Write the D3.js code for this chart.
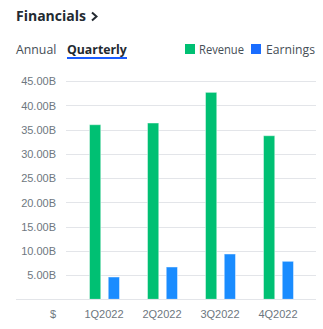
<!DOCTYPE html>
<html>
<head>
<meta charset="utf-8">
<script src="https://cdn.jsdelivr.net/npm/d3@7"></script>
<style>
  html, body { margin: 0; padding: 0; background: #fff; }
  svg { display: block; }
</style>
</head>
<body>
<svg id="chart" width="323" height="329"></svg>
<script>
// Quarterly financials (billions of dollars)
const quarters = ["1Q2022", "2Q2022", "3Q2022", "4Q2022"];
const revenue = [35.99, 36.34, 42.66, 33.72];
const earnings = [4.60, 6.66, 9.34, 7.83];
const seriesNames = ["Revenue", "Earnings"];
const yTicks = [5, 10, 15, 20, 25, 30, 35, 40, 45];

const colors = { Revenue: "#00c073", Earnings: "#1a8cff" };
const legendColors = { Revenue: "#00c073", Earnings: "#1a6dff" };

const svg = d3.select("#chart");
const txt = "#464e56";
const axisFont = "Liberation Sans, Arial, sans-serif";
const uiFont = "'Open Sans', 'Noto Sans', sans-serif";

// Header
svg.append("text").attr("x", 16).attr("y", 21)
  .attr("font-family", uiFont).attr("font-weight", 700).attr("font-size", 14)
  .attr("fill", "#232a31").text("Financials");
svg.append("path").attr("d", "M92,12.5 L96.5,16.5 L92,20.5")
  .attr("fill", "none").attr("stroke", "#232a31").attr("stroke-width", 2);

svg.append("text").attr("x", 16).attr("y", 54)
  .attr("font-family", uiFont).attr("font-size", 12.3)
  .attr("fill", txt).text("Annual");
svg.append("text").attr("x", 67).attr("y", 54)
  .attr("font-family", uiFont).attr("font-weight", 700).attr("font-size", 12.3)
  .attr("fill", "#232a31").text("Quarterly");
svg.append("rect").attr("x", 67).attr("y", 57).attr("width", 60).attr("height", 2)
  .attr("fill", "#1a5cff");

// Legend
const legendPos = [{ x: 185, tx: 199, w: 45 }, { x: 251, tx: 266, w: 49 }];
seriesNames.forEach((name, i) => {
  svg.append("rect").attr("x", legendPos[i].x).attr("y", 44)
    .attr("width", 10).attr("height", 10).attr("fill", legendColors[name]);
  svg.append("text").attr("x", legendPos[i].tx).attr("y", 54)
    .attr("font-family", uiFont).attr("font-size", 12.3)
    .attr("textLength", legendPos[i].w).attr("lengthAdjust", "spacingAndGlyphs")
    .attr("fill", txt).text(name);
});

// Scales
const y = d3.scaleLinear().domain([0, 45]).range([299.3, 81]);
const x0 = d3.scaleBand().domain(quarters).range([75, 307]);
const x1 = d3.scaleBand().domain(seriesNames).range([14.5, 44.5]).paddingInner(0.4);

// Gridlines and y labels
const yAxis = d3.axisLeft(y).tickValues(yTicks)
  .tickFormat(d => d3.format(".2f")(d) + "B").tickSize(0).tickPadding(0);
const yg = svg.append("g").attr("transform", "translate(56,0)").call(yAxis);
yg.select(".domain").remove();
yg.selectAll("text").attr("font-family", axisFont).attr("font-size", 11)
  .attr("fill", "#6e7780").attr("dy", "0.35em");

svg.append("g").selectAll("line").data(yTicks).join("line")
  .attr("x1", 66).attr("x2", 316)
  .attr("y1", d => Math.round(y(d)) + 0.5).attr("y2", d => Math.round(y(d)) + 0.5)
  .attr("stroke", "#e3e5e9").attr("stroke-width", 1);

// Bars
const rows = quarters.map((q, i) => ({ q, Revenue: revenue[i], Earnings: earnings[i] }));
const groups = svg.append("g").selectAll("g").data(rows).join("g")
  .attr("transform", d => `translate(${x0(d.q)},0)`);
groups.selectAll("rect").data(d => seriesNames.map(k => ({ k, v: d[k] }))).join("rect")
  .attr("x", d => x1(d.k))
  .attr("width", x1.bandwidth())
  .attr("y", d => y(d.v))
  .attr("height", d => y(0) - y(d.v))
  .attr("fill", d => colors[d.k])
  .attr("stroke", "rgba(255,255,255,0.45)").attr("stroke-width", 1);

// Baseline
svg.append("line").attr("x1", 16).attr("x2", 316).attr("y1", 299.5).attr("y2", 299.5)
  .attr("stroke", "#e3e5e9").attr("stroke-width", 1);

// X labels
const xAxis = d3.axisBottom(x0).tickSize(0).tickPadding(0);
const xg = svg.append("g").attr("transform", "translate(0,310)").call(xAxis);
xg.select(".domain").remove();
xg.selectAll("text").attr("font-family", axisFont).attr("font-size", 11)
  .attr("fill", "#6e7780").attr("dy", "0.71em");

svg.append("text").attr("x", 53).attr("y", 318).attr("text-anchor", "middle")
  .attr("font-family", axisFont).attr("font-size", 11).attr("fill", "#6e7780").text("$");
</script>
</body>
</html>
